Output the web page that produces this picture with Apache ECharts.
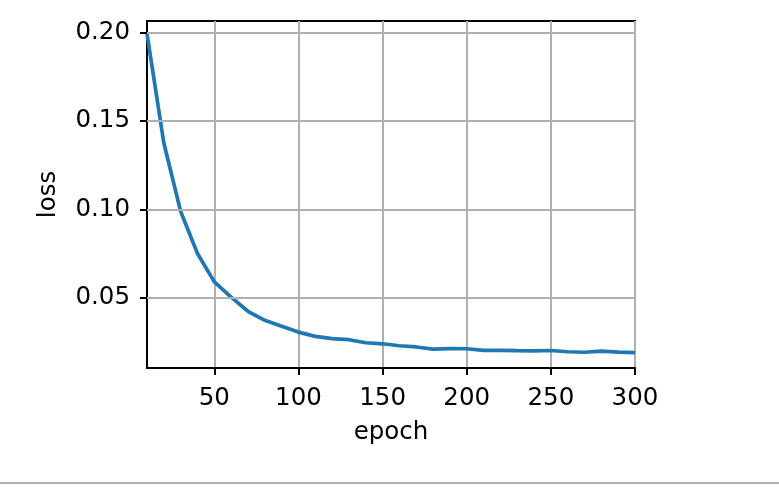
<!DOCTYPE html>
<html>
<head>
<meta charset="utf-8">
<script src="https://cdn.jsdelivr.net/npm/echarts@6/dist/echarts.min.js"></script>
<style>html,body{margin:0;padding:0;background:#fff;}#c{width:779px;height:493px;}</style>
</head>
<body>
<div id="c"></div>
<script>
const epochs = [10,20,30,40,50,60,70,80,90,100,110,120,130,140,150,160,170,180,190,200,210,220,230,240,250,260,270,280,290,300];
const loss = [0.1994,0.1376,0.0988,0.0751,0.0590,0.0504,0.0424,0.0373,0.0339,0.0306,0.0282,0.0269,0.0263,0.0246,0.0240,0.0229,0.0222,0.0210,0.0213,0.0212,0.0203,0.0203,0.0201,0.0200,0.0202,0.0195,0.0192,0.0198,0.0193,0.0190];
const xTicks = [50,100,150,200,250,300];
const yTicks = [0.05,0.10,0.15,0.20];

const chart = echarts.init(document.getElementById('c'), null, {renderer:'canvas'});
const font = 'DejaVu Sans';
chart.setOption({
  animation:false,
  backgroundColor:'#fff',
  grid:{left:147,top:21,right:144,bottom:125,show:true,borderColor:'#000',borderWidth:2,backgroundColor:'transparent'},
  xAxis:{
    type:'value', min:10, max:300, interval:50,
    name:'epoch', nameLocation:'middle', nameGap:52,
    nameTextStyle:{fontFamily:font,fontSize:24.5,color:'#000'},
    axisLine:{show:true,onZero:false,lineStyle:{color:'#000',width:2}},
    axisTick:{show:true,length:7,lineStyle:{color:'#000',width:2},customValues:xTicks},
    axisLabel:{fontFamily:font,fontSize:24.5,color:'#000',margin:18,customValues:xTicks,formatter:v=>String(v)},
    splitLine:{show:true,lineStyle:{color:'#b0b0b0',width:2}},
    minorTick:{show:false}
  },
  yAxis:{
    type:'value', min:0.0103, max:0.2066,
    name:'loss', nameLocation:'middle', nameGap:86, nameRotate:90,
    nameTextStyle:{fontFamily:font,fontSize:24.5,color:'#000'},
    axisLine:{show:true,onZero:false,lineStyle:{color:'#000',width:2}},
    axisTick:{show:true,length:7,lineStyle:{color:'#000',width:2},customValues:yTicks},
    axisLabel:{fontFamily:font,fontSize:24.5,color:'#000',margin:17,padding:[4,0,0,0],customValues:yTicks,formatter:v=>v.toFixed(2)},
    splitLine:{show:false}
  },
  series:[{
    type:'line', data:epochs.map((e,i)=>[e,loss[i]]),
    showSymbol:false, symbol:'none',
    lineStyle:{color:'#1f77b4',width:3.7}, z:3,
    markLine:{silent:true,symbol:'none',label:{show:false},animation:false,
      lineStyle:{color:'#b0b0b0',width:2,type:'solid'},
      data:yTicks.map(v=>({yAxis:v}))}
  }],
  graphic:[{type:'rect',shape:{x:0,y:482,width:779,height:2},style:{fill:'#b0b0b0'},silent:true}]
});
</script>
</body>
</html>
